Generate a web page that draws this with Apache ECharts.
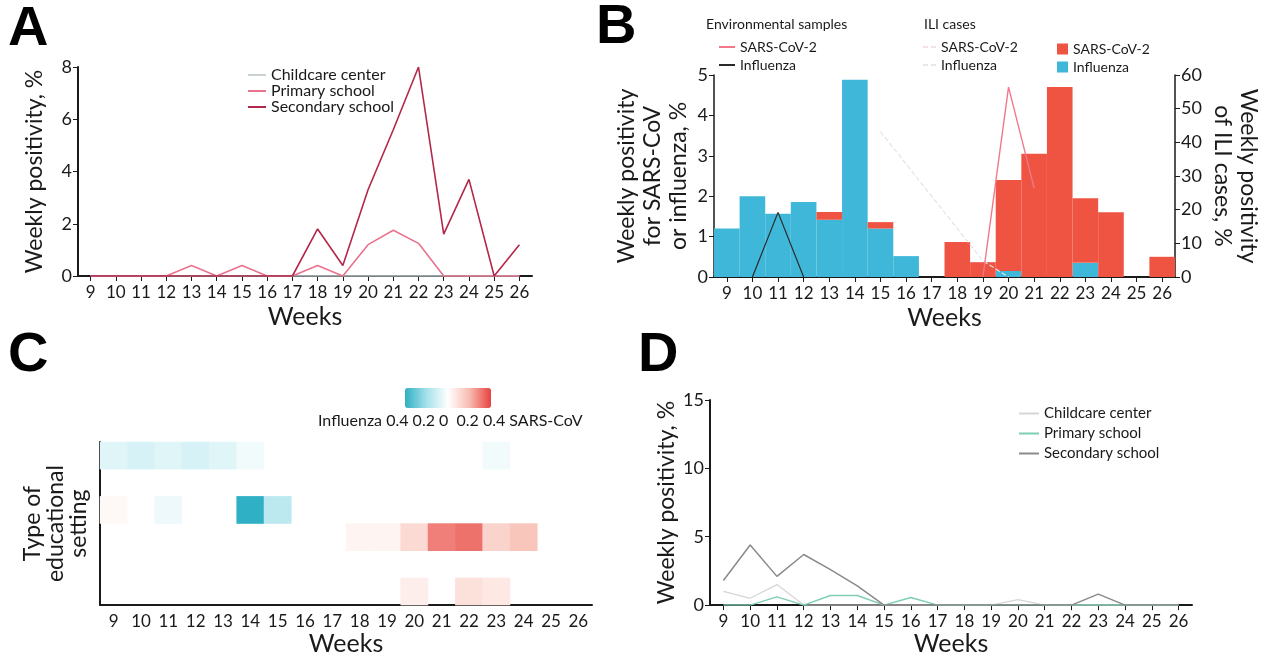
<!DOCTYPE html>
<html>
<head>
<meta charset="utf-8">
<script src="https://cdn.jsdelivr.net/npm/echarts@6/dist/echarts.min.js"></script>
<style>
html, body { margin: 0; padding: 0; background: #fff; }
#chart { width: 1285px; height: 657px; }
</style>
</head>
<body>
<div id="chart"></div>
<script>
// weeks shared by all four panels
const weeks = ['9','10','11','12','13','14','15','16','17','18','19','20','21','22','23','24','25','26']

// A: SARS-CoV-2 weekly positivity by setting
const aChildcare = [0,0,0,0,0,0,0,0,0,0,0,0,0,0,0,0,0,0]
const aPrimary   = [0,0,0,0,0.4,0,0.4,0,0,0.4,0,1.2,1.75,1.25,0,0,0,0]
const aSecondary = [0,0,0,0,0,0,0,0,0,1.8,0.4,3.3,5.6,8,1.6,3.7,0,1.2]

// B: environmental samples (left axis) and ILI cases (right axis)
const bEnvSars      = [null,null,null,null,null,null,null,null,null,null,0,4.7,2.2,null,null,null,null,null]
const bEnvInfluenza = [null,0,1.6,0,null,null,null,null,null,null,null,null,null,null,null,null,null,null]
const bIliSarsLine  = [null,null,null,null,null,null,null,null,null,null,null,null,null,null,null,null,null,null]
const bIliFluLine   = [null,null,null,null,null,null,3.6,2.8,2.0,1.2,0.4,0,null,null,null,null,null,null]
const bIliInfluenza = [14.4,24,18.8,22.3,17,58.6,14.4,6.2,0,0,0,1.8,0,0,4.2,0,0,0]
const bIliSars      = [0,0,0,0,2.3,0,1.9,0,0,10.4,4.4,27,36.6,56.4,19.2,19.2,0,6]

// C: correlation heatmap, rows top to bottom, negative = influenza, positive = SARS-CoV
const cRows = ['r1','r2','r3','r4','r5','r6']
const cCells = [
    [0,0,-0.07],[1,0,-0.09],[2,0,-0.07],[3,0,-0.09],[4,0,-0.07],[5,0,-0.03],[14,0,-0.03],
    [0,2,0.02],[2,2,-0.04],[5,2,-0.4],[6,2,-0.15],
    [9,3,0.03],[10,3,0.03],[11,3,0.11],[12,3,0.3],[13,3,0.32],[14,3,0.13],[15,3,0.17],
    [11,5,0.05],[13,5,0.09],[14,5,0.07]
]

// D: influenza weekly positivity by setting
const dChildcare = [1.0,0.5,1.5,0,0,0,0,0,0,0,0,0.4,0,0,0,0,0,0]
const dPrimary   = [0,0,0.6,0,0.7,0.7,0,0.55,0,0,0,0,0,0,0,0,0,0]
const dSecondary = [1.8,4.4,2.1,3.7,2.6,1.4,0,0,0,0,0,0,0,0,0.8,0,0,0]

const font = 'Lato'
const ink = '#1a1a1a'
const stripPrefix = n => n.replace(/^.*?: /, '')
const dashIcon = 'path://M0,0h5v1h-5z M8,0h5v1h-5z'

function xCat(gridIndex, gap, ticks){
    return {
        type: 'category', gridIndex, data: weeks, boundaryGap: true,
        name: 'Weeks', nameLocation: 'middle', nameGap: gap,
        nameTextStyle: { fontFamily: font, fontSize: 25, color: ink },
        axisLine: { lineStyle: { color: ink, width: 2 } },
        axisTick: { show: ticks, alignWithLabel: true, length: 5, lineStyle: { color: ink } },
        axisLabel: { interval: 0, fontFamily: font, fontSize: 17, color: ink, margin: 8 },
        splitLine: { show: false }
    }
}
function yVal(gridIndex, max, interval, name, gap, extra){
    return Object.assign({
        type: 'value', gridIndex, min: 0, max, interval,
        name, nameLocation: 'middle', nameGap: gap,
        nameTextStyle: { fontFamily: font, fontSize: 23, color: ink, lineHeight: 26 },
        axisLine: { show: true, lineStyle: { color: ink, width: 2 } },
        axisTick: { show: true, length: 5, lineStyle: { color: ink } },
        axisLabel: { fontFamily: font, fontSize: 18, color: ink, margin: 6 },
        splitLine: { show: false }
    }, extra || {})
}
function line(name, data, color, xi, yi, extra){
    return Object.assign({
        type: 'line', name, data, xAxisIndex: xi, yAxisIndex: yi,
        symbol: 'none', lineStyle: { color, width: 1.6 }, itemStyle: { color }, z: 5
    }, extra || {})
}
function letter(t, x, y){
    return { type: 'text', left: x, top: y, style: { text: t, fontFamily: 'Liberation Sans', fontWeight: 'bold', fontSize: 56, fill: '#000' } }
}
const legendText = { fontFamily: font, fontSize: 16, color: ink }
const smallText = { fontFamily: font, fontSize: 14, color: ink }

const chart = echarts.init(document.getElementById('chart'))
chart.setOption({
    animation: false,
    backgroundColor: '#fff',
    grid: [
        { left: 78, top: 67, width: 454, height: 209 },
        { left: 714, top: 75, width: 461, height: 202 },
        { left: 100, top: 442, width: 492, height: 164 },
        { left: 710, top: 400, width: 482, height: 208 }
    ],
    xAxis: [
        xCat(0, 28, true),
        xCat(1, 28, true),
        xCat(2, 20, false),
        xCat(3, 24, true)
    ],
    yAxis: [
        yVal(0, 8, 2, 'Weekly positivity, %', 30),
        yVal(1, 5, 1, 'Weekly positivity\nfor SARS-CoV\nor influenza, %', 22, { axisLine: { show: true, lineStyle: { color: ink, width: 1.5 } } }),
        yVal(1, 60, 10, 'Weekly positivity\nof ILI cases, %', 34, { position: 'right', nameRotate: -90, axisLine: { show: true, lineStyle: { color: ink, width: 1.5 } } }),
        {
            type: 'category', gridIndex: 2, data: cRows, inverse: true,
            name: 'Type of\neducational\nsetting', nameLocation: 'middle', nameGap: 10,
            nameTextStyle: { fontFamily: font, fontSize: 23, color: ink, lineHeight: 23 },
            axisLine: { lineStyle: { color: ink, width: 2 } },
            axisTick: { show: false }, axisLabel: { show: false }, splitLine: { show: false }
        },
        yVal(3, 15, 5, 'Weekly positivity, %', 28)
    ],
    visualMap: {
        type: 'continuous', seriesIndex: 12, dimension: 2,
        min: -0.4, max: 0.4, orient: 'horizontal',
        left: 390, top: 373, itemWidth: 20, itemHeight: 86,
        calculable: false, text: null, showLabel: false,
        inRange: { color: ['#2fb0c4', '#a6e1ea', '#ffffff', '#f8bcb0', '#e6413f'] }
    },
    legend: [
        { left: 243, top: 62, orient: 'vertical', itemWidth: 18, itemHeight: 2, itemGap: 0, icon: 'rect',
          data: ['A: Childcare center', 'A: Primary school', 'A: Secondary school'],
          formatter: stripPrefix, textStyle: legendText },
        { left: 714, top: 35, orient: 'vertical', itemWidth: 16, itemHeight: 2, itemGap: 4, icon: 'rect',
          data: ['Env: SARS-CoV-2', 'Env: Influenza'], formatter: stripPrefix, textStyle: smallText },
        { left: 918, top: 35, orient: 'vertical', itemWidth: 13, itemHeight: 2, itemGap: 4, icon: dashIcon,
          data: ['ILI line: SARS-CoV-2', 'ILI line: Influenza'], formatter: stripPrefix, textStyle: smallText },
        { left: 1052, top: 37, orient: 'vertical', itemWidth: 11, itemHeight: 11, itemGap: 4, icon: 'rect',
          data: ['ILI: SARS-CoV-2', 'ILI: Influenza'], formatter: stripPrefix, textStyle: smallText },
        { left: 1014, top: 401, orient: 'vertical', itemWidth: 20, itemHeight: 2, itemGap: 5, icon: 'rect',
          data: ['D: Childcare center', 'D: Primary school', 'D: Secondary school'],
          formatter: stripPrefix, textStyle: { fontFamily: font, fontSize: 15, color: ink } }
    ],
    graphic: [
        letter('A', 8, 2),
        letter('B', 596, 0),
        letter('C', 8, 328),
        letter('D', 638, 328),
        { type: 'text', left: 706, top: 17, style: { text: 'Environmental samples', fontFamily: font, fontSize: 14, fill: ink } },
        { type: 'text', left: 924, top: 17, style: { text: 'ILI cases', fontFamily: font, fontSize: 14, fill: ink } },
        { type: 'text', left: 318, top: 413, style: { text: 'Influenza 0.4 0.2 0  0.2 0.4 SARS-CoV', fontFamily: font, fontSize: 16, fill: ink } }
    ],
    series: [
        // A
        line('A: Childcare center', aChildcare, '#c9d3d6', 0, 0),
        line('A: Primary school', aPrimary, '#e9738d', 0, 0),
        line('A: Secondary school', aSecondary, '#b3284a', 0, 0),
        // B bars (ILI cases, right axis)
        { type: 'bar', name: 'ILI: Influenza', data: bIliInfluenza, xAxisIndex: 1, yAxisIndex: 2,
          stack: 'ili', barWidth: '100%', itemStyle: { color: '#3fb7d9' } },
        { type: 'bar', name: 'ILI: SARS-CoV-2', data: bIliSars, xAxisIndex: 1, yAxisIndex: 2,
          stack: 'ili', barWidth: '100%', itemStyle: { color: '#ef5443' } },
        // B lines
        line('ILI line: SARS-CoV-2', bIliSarsLine, '#ecc4c4', 1, 1, { lineStyle: { color: '#f2d4d4', width: 1.2, type: 'dashed' } }),
        line('ILI line: Influenza', bIliFluLine, '#cfcfcf', 1, 1, { lineStyle: { color: '#e4e4e4', width: 1.2, type: 'dashed' } }),
        line('Env: SARS-CoV-2', bEnvSars, '#f0788a', 1, 1, { lineStyle: { color: '#f0788a', width: 1.4 } }),
        line('Env: Influenza', bEnvInfluenza, '#2a2a2a', 1, 1, { lineStyle: { color: '#2a2a2a', width: 1.2 } }),
        // D
        line('D: Childcare center', dChildcare, '#d6d6d6', 3, 4, { lineStyle: { color: '#d6d6d6', width: 1.3 } }),
        line('D: Primary school', dPrimary, '#7fcdb3', 3, 4, { lineStyle: { color: '#7fcdb3', width: 1.5 } }),
        line('D: Secondary school', dSecondary, '#8a8a8a', 3, 4, { lineStyle: { color: '#8a8a8a', width: 1.5 } }),
        // C heatmap
        { type: 'heatmap', name: 'Correlation', data: cCells, xAxisIndex: 2, yAxisIndex: 3,
          itemStyle: { borderWidth: 0 }, emphasis: { disabled: true } }
    ]
})
</script>
</body>
</html>
